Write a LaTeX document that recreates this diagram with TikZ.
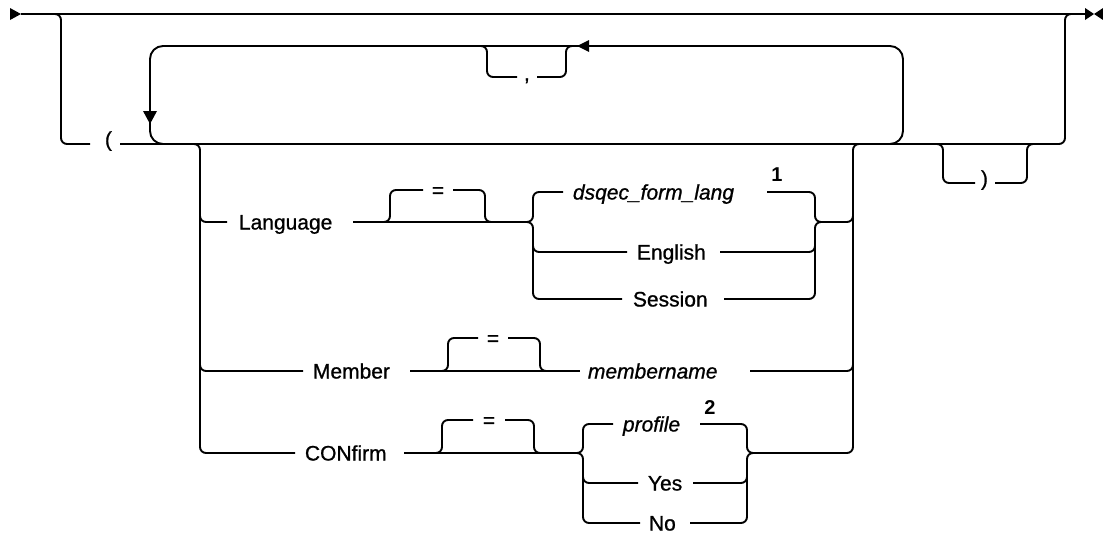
\documentclass[tikz,border=0pt]{standalone}
\usepackage{fontspec}
\setmainfont{Liberation Sans}
\newfontfamily\plexlike{Liberation Sans}[FakeBold=0.9]
\begin{document}
\begin{tikzpicture}[x=1pt,y=-1pt,line width=1.9pt,rounded corners=6pt,
  txt/.style={anchor=west,inner sep=0pt,text height=19pt,text depth=4pt,font=\plexlike\fontsize{21}{24}\selectfont},
  itx/.style={txt,font=\plexlike\fontsize{21}{24}\selectfont\itshape},
  eqs/.style={anchor=center,inner sep=0pt,text height=19pt,text depth=4pt,font=\plexlike\fontsize{21}{24}\selectfont},
  fnote/.style={anchor=center,inner sep=0pt,font=\fontsize{20}{22}\selectfont\bfseries},
  tip/.style={fill=black,draw=none,sharp corners}]
\useasboundingbox (0,0) rectangle (1103,533);
% main line and end markers
\coordinate (S) at (21,14);
\coordinate (E) at (1085,14);
\draw (S) -- (E);
\fill[tip] (10,8) -- (S) -- (10,20) -- cycle;
\fill[tip] (E) ++(0,-6) -- (1094,14) -- (1085,20) -- cycle;
\fill[tip] (1103,8) -- (1094,14) -- (1103,20) -- cycle;
% outer branch with parentheses
\draw (50,14) -- (61,14) -- (61,144) -- (90,144);
\node[txt] (lp) at (104,139) {(};
\draw (120,144) -- (1065,144) -- (1065,14) -- (1078,14);
% optional ")"
\draw (930,144) -- (943,144) -- (943,183) -- (975,183);
\node[txt] (rp) at (980,178) {)};
\draw (995,183) -- (1027,183) -- (1027,144) -- (1040,144);
% repeat loop
\draw[rounded corners=13pt] (880,144) -- (903,144) -- (903,46) -- (150,46) -- (150,144) -- (178,144);
\draw (475,46) -- (487,46) -- (487,77) -- (517,77);
\node[txt] (comma) at (523,73) {,};
\draw (537,77) -- (566,77) -- (566,46) -- (578,46);
\fill[tip] (577,46) -- (589,40) -- (589,52) -- cycle;
\fill[tip] (150,124) -- (143,111) -- (157,111) -- cycle;
% group frame
\draw (188,144) -- (200,144) -- (200,453) -- (295,453);
\draw (200,205) -- (200,222) -- (227,222);
\draw (200,355) -- (200,371) -- (303,371);
\draw (760,453) -- (853,453) -- (853,144) -- (866,144);
\draw (835,222) -- (853,222) -- (853,205);
\draw (750,371) -- (853,371) -- (853,355);
% Language row
\node[txt] (lang) at (238,222) {Language};
\draw (353,222) -- (520,222);
\draw (378,222) -- (390,222) -- (390,190) -- (423,190);
\node[eqs] (eq1) at (438,190) {=};
\draw (453,190) -- (485,190) -- (485,222) -- (497,222);
\draw (515,222) -- (533,222) -- (533,192) -- (563,192);
\draw (515,222) -- (533,222) -- (533,299) -- (622,299);
\draw (533,235) -- (533,252) -- (627,252);
\node[itx] (dsq) at (572,192) {dsqec\_form\_lang};
\node[fnote] (fn1) at (777,175) {1};
\node[txt] (eng) at (636,252) {English};
\node[txt] (ses) at (632,299) {Session};
\draw (767,192) -- (815,192) -- (815,222) -- (835,222);
\draw (724,299) -- (815,299) -- (815,222) -- (835,222);
\draw (720,252) -- (815,252) -- (815,235);
% Member row
\node[txt] (mem) at (312,371) {Member};
\draw (410,371) -- (580,371);
\draw (436,371) -- (448,371) -- (448,338) -- (478,338);
\node[eqs] (eq2) at (493,338) {=};
\draw (508,338) -- (540,338) -- (540,371) -- (552,371);
\node[itx] (mname) at (587,371) {membername};
% CONfirm row
\node[txt] (conf) at (304,453) {CONfirm};
\draw (404,453) -- (570,453);
\draw (430,453) -- (442,453) -- (442,420) -- (473,420);
\node[eqs] (eq3) at (489,420) {=};
\draw (505,420) -- (534,420) -- (534,453) -- (546,453);
\draw (565,453) -- (583,453) -- (583,424) -- (613,424);
\draw (565,453) -- (583,453) -- (583,523) -- (640,523);
\draw (583,468) -- (583,483) -- (638,483);
\node[itx] (prof) at (622,424) {profile};
\node[fnote] (fn2) at (710,408) {2};
\node[txt] (yes) at (647,483) {Yes};
\node[txt] (no) at (648,523) {No};
\draw (700,424) -- (747,424) -- (747,453) -- (765,453);
\draw (690,523) -- (747,523) -- (747,453) -- (765,453);
\draw (693,483) -- (747,483) -- (747,468);
\end{tikzpicture}
\end{document}
